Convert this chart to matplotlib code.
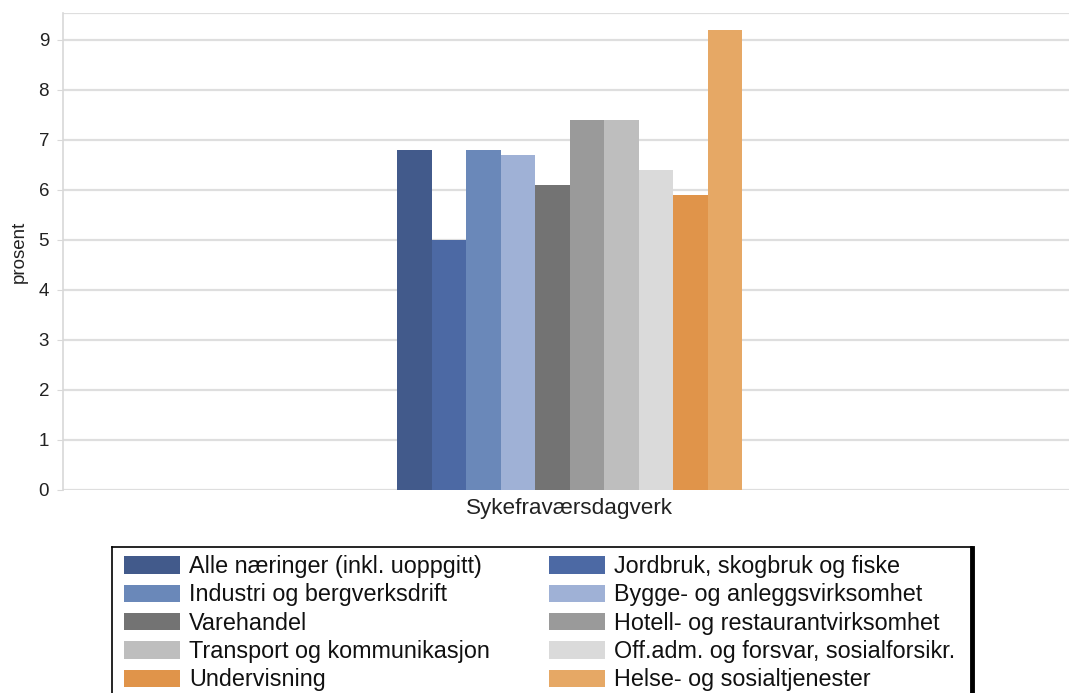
import matplotlib
matplotlib.use("Agg")
import matplotlib.pyplot as plt
from matplotlib.lines import Line2D
import numpy as np

plt.rcParams['font.family'] = ['Liberation Sans', 'DejaVu Sans']

category = "Sykefraværsdagverk"
series = [
    "Alle næringer (inkl. uoppgitt)",
    "Jordbruk, skogbruk og fiske",
    "Industri og bergverksdrift",
    "Bygge- og anleggsvirksomhet",
    "Varehandel",
    "Hotell- og restaurantvirksomhet",
    "Transport og kommunikasjon",
    "Off.adm. og forsvar, sosialforsikr.",
    "Undervisning",
    "Helse- og sosialtjenester",
]
values = [6.8, 5.0, 6.8, 6.7, 6.1, 7.4, 7.4, 6.4, 5.9, 9.2]
colors = ["#425a8b", "#4c69a4", "#6a88b9", "#9fb1d6", "#737373",
          "#9a9a9a", "#bebebe", "#dadada", "#e0944a", "#e6a865"]
yticks = list(range(0, 10))

W, H = 1069, 693
fig = plt.figure(figsize=(W / 100, H / 100), dpi=100)
ax = fig.add_axes([63 / W, 1 - 490 / H, (W - 63) / W, (490 - 13) / H])

n = len(values)
offsets = np.arange(n) - (n - 1) / 2
handles = []
for off, v, c, lab in zip(offsets, values, colors, series):
    handles.append(ax.bar(off, v, width=1.0, color=c, label=lab,
                          zorder=3, linewidth=0))

ax.set_xlim(-(569.5 - 63) / 34.5, (W - 569.5) / 34.5)
ax.set_ylim(0, 9.54)
ax.set_yticks(yticks)
ax.set_yticklabels([str(t) for t in yticks], fontsize=13.5, color="#222222")
ax.set_xticks([0])
ax.set_xticklabels([category], fontsize=16.2, color="#222222")
ax.tick_params(axis="x", length=0, pad=6)
ax.tick_params(axis="y", length=4, color="#d8d8d8", pad=6)
ax.yaxis.grid(True, color="#dedede", linewidth=1.6, zorder=0)
ax.axhline(9.54, color="#dedede", linewidth=1.6, zorder=0)
for s in ["top", "right", "bottom"]:
    ax.spines[s].set_visible(False)
ax.spines["left"].set_color("#d8d8d8")
ax.spines["left"].set_linewidth(1.2)
ax.set_ylabel("prosent", fontsize=13.5, color="#222222", labelpad=8)

# two-column legend filled row by row
order = list(range(0, n, 2)) + list(range(1, n, 2))
fs_px = 16.8 * 100 / 72
leg = fig.legend([handles[i] for i in order], [series[i] for i in order],
                 loc="upper left", bbox_to_anchor=(110 / W, 1 - 541 / H),
                 ncol=2, fontsize=16.8, frameon=False,
                 handlelength=56 / fs_px, handleheight=18 / fs_px,
                 handletextpad=9 / fs_px, labelspacing=0.23,
                 columnspacing=2.53, borderpad=0.1)
for t in leg.get_texts():
    t.set_color("#111111")

# legend frame, cut off at the lower edge of the figure
x0, x1, ytop = 112, 972, 547
fig.add_artist(Line2D([x0 / W, x1 / W], [1 - ytop / H] * 2, color="black",
                      linewidth=1.2, transform=fig.transFigure))
fig.add_artist(Line2D([x0 / W, x0 / W], [1 - ytop / H, 0], color="black",
                      linewidth=1.2, transform=fig.transFigure))
fig.add_artist(Line2D([x1 / W, x1 / W], [1 - (ytop + 1) / H, 0], color="black",
                      linewidth=3.5, transform=fig.transFigure))

fig.savefig("out.png", dpi=100)
